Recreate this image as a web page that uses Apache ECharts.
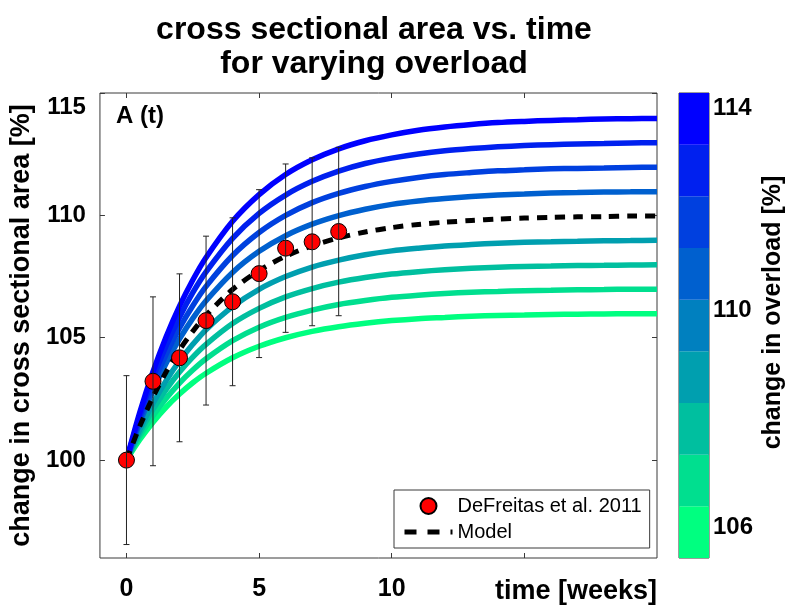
<!DOCTYPE html>
<html>
<head>
<meta charset="utf-8">
<script src="https://cdn.jsdelivr.net/npm/echarts@6/dist/echarts.min.js"></script>
<style>html,body{margin:0;padding:0;background:#fff}#c{width:800px;height:616px}</style>
</head>
<body>
<div id="c"></div>
<script>
// ---- data ----
const times = [0, 0.5, 1, 1.5, 2, 2.5, 3, 4, 5, 6, 7, 8, 9, 10, 11, 12, 13, 14, 15, 16, 17, 18, 19, 20];
const area106 = [100, 100.83, 101.55, 102.17, 102.70, 103.16, 103.55, 104.18, 104.65, 105.00, 105.26, 105.45, 105.59, 105.70, 105.78, 105.83, 105.88, 105.91, 105.93, 105.95, 105.96, 105.97, 105.98, 105.98];
const area107 = [100, 100.97, 101.81, 102.53, 103.15, 103.68, 104.14, 104.88, 105.43, 105.83, 106.13, 106.36, 106.52, 106.65, 106.74, 106.81, 106.86, 106.89, 106.92, 106.94, 106.96, 106.97, 106.98, 106.98];
const area108 = [100, 101.11, 102.07, 102.89, 103.60, 104.21, 104.73, 105.58, 106.20, 106.67, 107.01, 107.27, 107.46, 107.60, 107.70, 107.78, 107.84, 107.88, 107.91, 107.93, 107.95, 107.96, 107.97, 107.98];
const area109 = [100, 101.25, 102.32, 103.25, 104.05, 104.73, 105.33, 106.27, 106.98, 107.50, 107.89, 108.17, 108.39, 108.55, 108.66, 108.75, 108.81, 108.86, 108.90, 108.92, 108.94, 108.96, 108.97, 108.98];
const area111 = [100, 101.52, 102.84, 103.97, 104.95, 105.79, 106.51, 107.67, 108.53, 109.17, 109.64, 109.99, 110.25, 110.45, 110.59, 110.69, 110.77, 110.83, 110.87, 110.91, 110.93, 110.95, 110.96, 110.97];
const area112 = [100, 101.66, 103.10, 104.33, 105.40, 106.31, 107.10, 108.36, 109.30, 110.00, 110.52, 110.90, 111.18, 111.39, 111.55, 111.67, 111.75, 111.82, 111.86, 111.90, 111.92, 111.94, 111.96, 111.97];
const area113 = [100, 101.80, 103.36, 104.69, 105.84, 106.84, 107.69, 109.06, 110.08, 110.83, 111.39, 111.81, 112.12, 112.34, 112.51, 112.64, 112.73, 112.80, 112.85, 112.89, 112.92, 112.94, 112.96, 112.97];
const area114 = [100, 101.94, 103.61, 105.05, 106.29, 107.36, 108.28, 109.76, 110.85, 111.67, 112.27, 112.72, 113.05, 113.29, 113.48, 113.61, 113.71, 113.79, 113.84, 113.88, 113.91, 113.94, 113.95, 113.96];
const modelArea = [100, 101.38, 102.58, 103.61, 104.50, 105.26, 105.92, 106.97, 107.75, 108.33, 108.76, 109.08, 109.32, 109.50, 109.63, 109.72, 109.79, 109.85, 109.89, 109.92, 109.94, 109.95, 109.97, 109.97];

const expWeeks = [0, 1, 2, 3, 4, 5, 6, 7, 8];
const expMean = [100, 103.22, 104.18, 105.70, 106.47, 107.62, 108.66, 108.92, 109.34];
const expErr = [3.45, 3.45, 3.43, 3.45, 3.43, 3.43, 3.44, 3.43, 3.44];

const overloadLevels = [106, 107, 108, 109, 110, 111, 112, 113, 114];
const curveLevels = [106, 107, 108, 109, 111, 112, 113, 114];
const curveValues = [area106, area107, area108, area109, area111, area112, area113, area114];

const xTicks = [0, 5, 10, 15];
const xLabels = [0, 5, 10];
const yTicks = [100, 105, 110, 115];
const cbLabels = [106, 110, 114];
const cbTicks = [108, 110, 112];

// ---- styles ----
const winter = ['#00ff80', '#00df8f', '#00bf9f', '#009faf', '#0080bf', '#0060cf', '#0040df', '#0020ef', '#0000ff'];
const FONT = 'Liberation Sans';
const AX = '#3a3a3a';

function colorFor(level) { return winter[overloadLevels.indexOf(level)]; }

const series = [];
curveLevels.forEach((lv, k) => {
  series.push({
    type: 'line', name: 'overload ' + lv, xAxisIndex: 0, yAxisIndex: 0,
    data: times.map((t, i) => [t, curveValues[k][i]]),
    showSymbol: false, symbol: 'none', smooth: 0.3,
    lineStyle: { color: colorFor(lv), width: 5.5, cap: 'butt' },
    itemStyle: { color: colorFor(lv) },
    z: 2, silent: true
  });
});
series.push({
  type: 'line', name: 'Model', xAxisIndex: 0, yAxisIndex: 0,
  data: times.map((t, i) => [t, modelArea[i]]),
  showSymbol: false, symbol: 'none', smooth: 0.3,
  lineStyle: { color: '#000', width: 5, type: [10, 8], cap: 'butt' },
  itemStyle: { color: '#000' },
  z: 3
});
series.push({
  type: 'scatter', name: 'DeFreitas et al. 2011', xAxisIndex: 0, yAxisIndex: 0,
  data: expWeeks.map((t, i) => [t, expMean[i]]),
  symbol: 'circle', symbolSize: 16,
  itemStyle: { color: '#ff0000', borderColor: '#000', borderWidth: 1, opacity: 1 },
  z: 4
});
series.push({
  type: 'custom', name: 'errorbars', xAxisIndex: 0, yAxisIndex: 0,
  data: expWeeks.map((t, i) => [t, expMean[i] - expErr[i], expMean[i] + expErr[i]]),
  renderItem: function (params, api) {
    const x = api.value(0);
    const p1 = api.coord([x, api.value(1)]);
    const p2 = api.coord([x, api.value(2)]);
    const st = { stroke: '#222', lineWidth: 1 };
    return {
      type: 'group', children: [
        { type: 'line', shape: { x1: p1[0], y1: p1[1], x2: p2[0], y2: p2[1] }, style: st },
        { type: 'line', shape: { x1: p1[0] - 3, y1: p1[1], x2: p1[0] + 3, y2: p1[1] }, style: st },
        { type: 'line', shape: { x1: p2[0] - 3, y1: p2[1], x2: p2[0] + 3, y2: p2[1] }, style: st }
      ]
    };
  },
  z: 5, silent: true
});
// colorbar
series.push({
  type: 'custom', name: 'colorbar', xAxisIndex: 2, yAxisIndex: 2,
  data: overloadLevels.map((lv, i) => [i]),
  renderItem: function (params, api) {
    const i = api.value(0);
    const n = overloadLevels.length;
    const lo = 106 + i * 8 / n, hi = 106 + (i + 1) * 8 / n;
    const a = api.coord([0, lo]), b = api.coord([1, hi]);
    return { type: 'rect', shape: { x: a[0], y: b[1], width: b[0] - a[0], height: a[1] - b[1] }, style: { fill: winter[i] } };
  },
  silent: true, z: 1
});

const tickStyle = { show: true, inside: true, length: 5, lineStyle: { color: AX, width: 1 } };
const labelBold = { fontFamily: FONT, fontWeight: 'bold', fontSize: 24, color: '#000' };
const noLine = { show: false, onZero: false };

const option = {
  animation: false,
  backgroundColor: '#fff',
  title: [
    { text: 'cross sectional area vs. time\nfor varying overload', left: 369, top: 8, textAlign: 'center',
      textStyle: { fontFamily: FONT, fontWeight: 'bold', fontSize: 32, lineHeight: 34, color: '#000' } },
    { text: 'A (t)', left: 111, top: 99,
      textStyle: { fontFamily: FONT, fontWeight: 'bold', fontSize: 24, color: '#000' } }
  ],
  legend: {
    orient: 'vertical', left: 394, top: 490,
    data: [
      { name: 'DeFreitas et al. 2011', icon: 'circle' },
      { name: 'Model', itemStyle: { color: 'transparent', borderWidth: 0 }, lineStyle: { width: 5, type: [12, 11] } }
    ],
    itemWidth: 48, itemHeight: 16, itemGap: 6,
    padding: [6, 8, 6, 8],
    borderColor: AX, borderWidth: 1, backgroundColor: '#fff',
    textStyle: { fontFamily: FONT, fontSize: 20, color: '#000' },
    selectedMode: false
  },
  grid: [
    { left: 98, top: 93, width: 559, height: 465, show: true, borderColor: AX, borderWidth: 1, backgroundColor: '#fff' },
    { left: 679, top: 93, width: 30, height: 465, show: true, borderColor: AX, borderWidth: 1, backgroundColor: 'transparent' }
  ],
  xAxis: [
    { gridIndex: 0, type: 'value', min: -1, max: 20, position: 'bottom',
      axisLine: noLine, splitLine: { show: false },
      axisTick: Object.assign({ customValues: xTicks }, tickStyle),
      axisLabel: Object.assign({ customValues: xLabels, margin: 19 }, labelBold, { fontSize: 25 }),
      name: 'time [weeks]', nameLocation: 'end', nameGap: 0,
      nameTextStyle: { fontFamily: FONT, fontWeight: 'bold', fontSize: 27, color: '#000',
        align: 'right', verticalAlign: 'top', padding: [20, 0, 0, 0] } },
    { gridIndex: 0, type: 'value', min: -1, max: 20, position: 'top',
      axisLine: noLine, splitLine: { show: false },
      axisTick: Object.assign({ customValues: xTicks }, tickStyle),
      axisLabel: { show: false } },
    { gridIndex: 1, type: 'value', min: 0, max: 1, show: false, axisLine: noLine }
  ],
  yAxis: [
    { gridIndex: 0, type: 'value', min: 96, max: 115, position: 'left',
      axisLine: noLine, splitLine: { show: false },
      axisTick: Object.assign({ customValues: yTicks }, tickStyle),
      axisLabel: Object.assign({ customValues: yTicks, margin: 14,
        formatter: v => v === 115 ? '{s|115}' : String(v),
        rich: { s: { padding: [28, 0, 0, 0], fontFamily: FONT, fontWeight: 'bold', fontSize: 24, color: '#000' } } }, labelBold),
      name: 'change in cross sectional area [%]', nameLocation: 'middle', nameGap: 62,
      nameTextStyle: { fontFamily: FONT, fontWeight: 'bold', fontSize: 27, color: '#000' } },
    { gridIndex: 0, type: 'value', min: 96, max: 115, position: 'right',
      axisLine: noLine, splitLine: { show: false },
      axisTick: Object.assign({ customValues: yTicks }, tickStyle),
      axisLabel: { show: false } },
    { gridIndex: 1, type: 'value', min: 106, max: 114, position: 'right',
      axisLine: noLine, splitLine: { show: false },
      axisTick: Object.assign({ customValues: cbTicks }, tickStyle, { length: 4 }),
      axisLabel: Object.assign({ customValues: cbLabels, margin: 4,
        formatter: v => v === 114 ? '{a|114}' : (v === 110 ? '{b|110}' : '{c|106}'),
        rich: {
          a: { padding: [30, 0, 0, 0], fontFamily: FONT, fontWeight: 'bold', fontSize: 24, color: '#000' },
          b: { padding: [0, 0, 30, 0], fontFamily: FONT, fontWeight: 'bold', fontSize: 24, color: '#000' },
          c: { padding: [0, 0, 62, 0], fontFamily: FONT, fontWeight: 'bold', fontSize: 24, color: '#000' }
        } }, labelBold),
      name: 'change in overload [%]', nameLocation: 'middle', nameGap: 52, nameRotate: 90,
      nameTextStyle: { fontFamily: FONT, fontWeight: 'bold', fontSize: 25, color: '#000', padding: [0, 0, 0, 26] } },
    { gridIndex: 1, type: 'value', min: 106, max: 114, position: 'left',
      axisLine: noLine, splitLine: { show: false },
      axisTick: Object.assign({ customValues: cbTicks }, tickStyle, { length: 4 }),
      axisLabel: { show: false } }
  ],
  series: series
};

const chart = echarts.init(document.getElementById('c'), null, { renderer: 'canvas' });
chart.setOption(option);
</script>
</body>
</html>
